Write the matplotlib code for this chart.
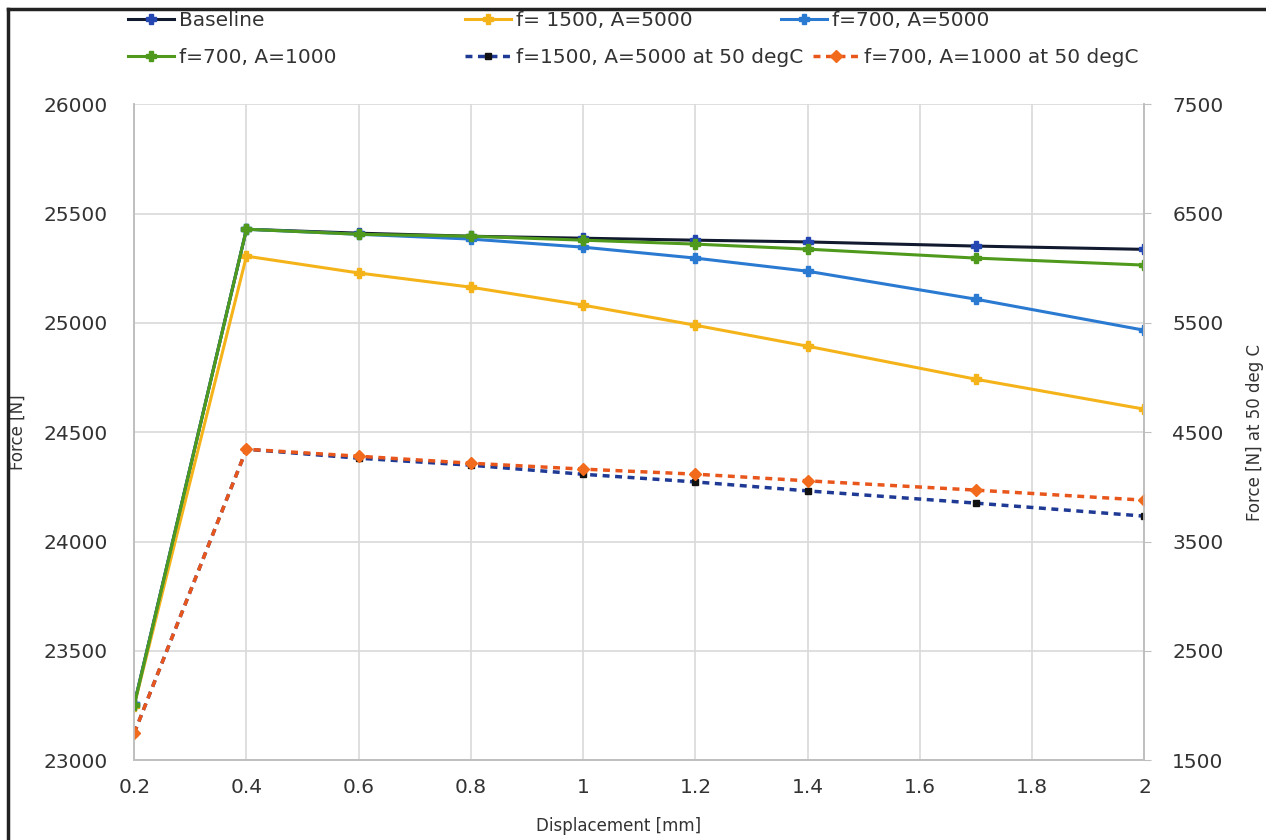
import matplotlib.pyplot as plt
from matplotlib.lines import Line2D

# displacement points [mm]
disp = [0.2, 0.4, 0.6, 0.8, 1.0, 1.2, 1.4, 1.7, 2.0]

# force [N], left axis
baseline = [23255, 25428, 25410, 25396, 25387, 25378, 25370, 25351, 25336]
f1500_a5000 = [23250, 25305, 25228, 25163, 25081, 24989, 24893, 24742, 24605]
f700_a5000 = [23255, 25428, 25405, 25383, 25346, 25296, 25236, 25108, 24966]
f700_a1000 = [23252, 25428, 25405, 25396, 25378, 25360, 25337, 25296, 25264]

# force [N] at 50 degC, right axis
f1500_a5000_50c = [1747, 4344, 4262, 4198, 4115, 4045, 3963, 3851, 3732]
f700_a1000_50c = [1747, 4344, 4280, 4216, 4162, 4116, 4055, 3970, 3878]

xticks = [0.2, 0.4, 0.6, 0.8, 1.0, 1.2, 1.4, 1.6, 1.8, 2.0]
xtick_labels = ["0.2", "0.4", "0.6", "0.8", "1", "1.2", "1.4", "1.6", "1.8", "2"]

txt = "#333333"
grid_c = "#d9d9d9"

fig = plt.figure(figsize=(12.66, 8.4), dpi=100)
ax = fig.add_axes([0.106, 0.095, 0.798, 0.781])
ax2 = ax.twinx()

l1, = ax.plot(disp, baseline, color="#111a2e", lw=2.2, marker="P", ms=6.5,
              mfc="#2346b0", mec="#2346b0", label="Baseline")
l2, = ax.plot(disp, f1500_a5000, color="#f5b31a", lw=2.2, marker="P", ms=6.5,
              label="f= 1500, A=5000")
l3, = ax.plot(disp, f700_a5000, color="#2a7ad2", lw=2.2, marker="P", ms=6.5,
              label="f=700, A=5000")
l4, = ax.plot(disp, f700_a1000, color="#4f9a1c", lw=2.2, marker="P", ms=6.5,
              label="f=700, A=1000")
l5, = ax2.plot(disp, f1500_a5000_50c, color="#1f3a94", lw=2.5, ls=(0, (2, 1.6)),
               marker="s", ms=5, mfc="#111111", mec="#111111",
               label="f=1500, A=5000 at 50 degC")
l6, = ax2.plot(disp, f700_a1000_50c, color="#e8561c", lw=2.5, ls=(0, (2, 1.6)),
               marker="D", ms=6, mfc="#f26a1b", mec="#f26a1b",
               label="f=700, A=1000 at 50 degC")

ax.set_xlim(0.2, 2.0)
ax.set_ylim(23000, 26000)
ax.set_yticks(range(23000, 26001, 500))
ax2.set_ylim(1500, 7500)
ax2.set_yticks(range(1500, 7501, 1000))
ax.set_xticks(xticks)
ax.set_xticklabels(xtick_labels)

ax.grid(True, color=grid_c, lw=1.2)
ax.set_axisbelow(True)

for a in (ax, ax2):
    a.spines["top"].set_visible(False)
    for s in ("left", "right", "bottom"):
        a.spines[s].set_color("#bfbfbf")
        a.spines[s].set_linewidth(1.2)

ax.tick_params(axis="y", length=0, pad=19, labelsize=14.5, labelcolor=txt)
ax.tick_params(axis="x", length=0, pad=13, labelsize=14.5, labelcolor=txt)
ax2.tick_params(axis="y", length=5, color="#bfbfbf", pad=15, labelsize=14.5, labelcolor=txt)

ax.set_xlabel("Displacement [mm]", fontsize=12, color=txt)
ax.xaxis.set_label_coords(0.479, -0.086)
ax.set_ylabel("Force [N]", fontsize=12, color=txt, labelpad=12)
ax2.set_ylabel("Force [N] at 50 deg C", fontsize=12, color=txt, labelpad=16)

# legend entries placed like the original two-row layout
legend_pos = [(l1, 0.101, 0.976), (l2, 0.367, 0.976), (l3, 0.617, 0.976),
              (l4, 0.101, 0.931), (l5, 0.367, 0.931), (l6, 0.642, 0.931)]
for line, x, y in legend_pos:
    fig.legend(handles=[line], labels=[line.get_label()], loc="center left",
               bbox_to_anchor=(x, y), frameon=False, fontsize=14.5,
               handlelength=2.3, handletextpad=0.25, borderpad=0,
               borderaxespad=0, labelcolor=txt)

# outer frame of the original picture
fig.add_artist(Line2D([0.006, 0.006], [0, 0.989], color="#222222", lw=2.5))
fig.add_artist(Line2D([0.006, 1.0], [0.989, 0.989], color="#222222", lw=2.5))

fig.savefig("out.png", dpi=100)
